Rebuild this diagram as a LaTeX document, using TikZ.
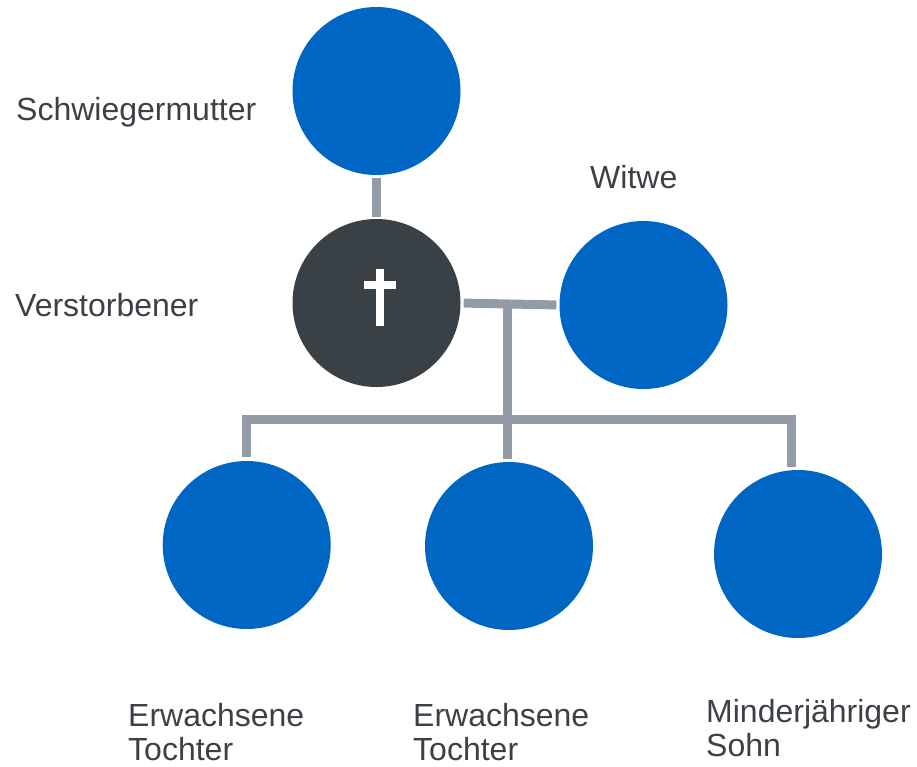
\documentclass[tikz,border=0pt]{standalone}
\usepackage{fontspec}
\setmainfont{Liberation Sans}
\usetikzlibrary{calc}
\definecolor{personblue}{HTML}{0066C3}
\definecolor{deceased}{HTML}{394046}
\definecolor{linkgray}{HTML}{939BA7}
\definecolor{labelgray}{HTML}{3B4147}
\tikzset{
  person/.style={circle, fill=personblue, minimum size=168pt, inner sep=0pt},
  dead/.style={circle, fill=deceased, minimum size=168pt, inner sep=0pt},
  link/.style={draw=linkgray, line width=9pt, line cap=butt, line join=miter},
  label/.style={text=labelgray, font=\fontsize{32}{34}\selectfont, inner sep=0pt},
  multilabel/.style={label, align=left, anchor=north west},
}
\begin{document}
\begin{tikzpicture}[x=1pt, y=-1pt]
\useasboundingbox (0,0) rectangle (917,766);

% people
\node[person] (mil) at (376.5,91) {};
\node[dead] (dec) at (376.5,303) {};
\node[person] (wid) at (643.5,305) {};
\node[person] (c1) at (246.7,545) {};
\node[person] (c2) at (509,546) {};
\node[person] (c3) at (798,554) {};

% cross on the deceased
\fill[white] (376,269) rectangle (384,326);
\fill[white] (364,281) rectangle (396,289);

% labels
\node[label, anchor=base west] (lmil) at (16,120) {Schwiegermutter};
\node[label, anchor=base west] (ldec) at (15,316) {Verstorbener};
\node[label, anchor=base west] (lwid) at (590,188) {Witwe};
\node[multilabel] (lc1) at (128,703) {Erwachsene\\Tochter};
\node[multilabel] (lc2) at (413,703) {Erwachsene\\Tochter};
\node[multilabel] (lc3) at (706,699) {Minderjähriger\\Sohn};

% connectors
\coordinate (couple) at ($(dec.east)!0.47!(wid.west)$);
\coordinate (bar) at (507.5,419.5);
\coordinate (barR) at (791.5,419.5);
\draw[link, shorten <=3pt, shorten >=2pt] (mil.south) -- (dec.north);
\draw[link, shorten <=3pt, shorten >=3pt] (dec.east) -- (wid.west);
\draw[link, shorten >=3pt] (couple) -- (couple |- c2.north);
\draw[link] ([yshift=4pt]c1.north) -- (c1.north |- bar) -- (barR) -- ([yshift=3pt]barR |- c3.north);
\end{tikzpicture}
\end{document}
